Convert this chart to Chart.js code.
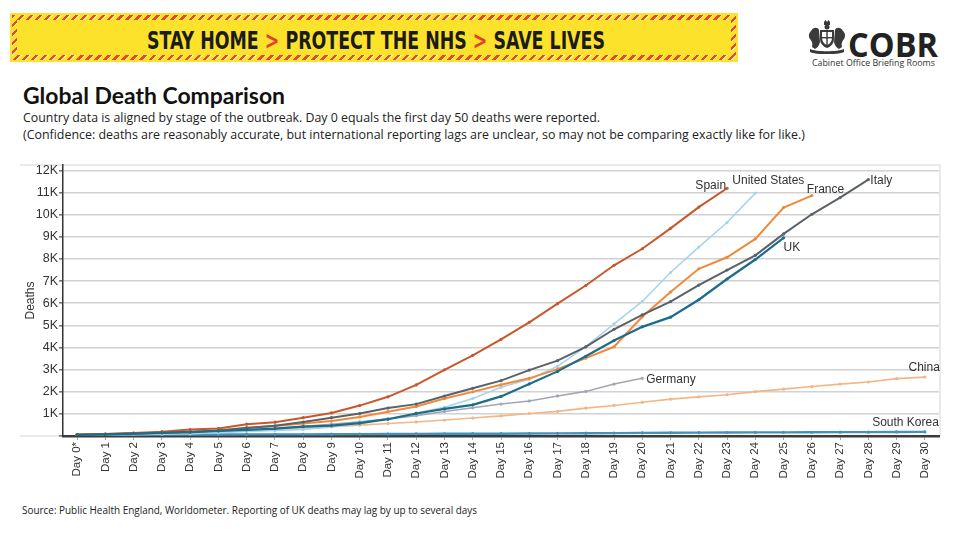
<!DOCTYPE html>
<html><head><meta charset="utf-8">
<script src="https://cdn.jsdelivr.net/npm/chart.js@4.4.1/dist/chart.umd.min.js"></script>
<style>
html,body{margin:0;padding:0;background:#fff;width:960px;height:535px;overflow:hidden;font-family:"Liberation Sans",Arial,sans-serif;}
.abs{position:absolute;white-space:nowrap;transform-origin:0 0;line-height:1;}
#banner{position:absolute;left:10px;top:13px;width:728px;height:49px;background:#fde22b;}
#stripes{position:absolute;left:2px;top:2px;right:2px;bottom:2px;background:repeating-linear-gradient(135deg,#e5492d 0 2.4px,#fbeea0 2.4px 3.4px,#fde22b 3.4px 6.4px);}
#bannerInner{position:absolute;left:7px;top:7px;right:7px;bottom:7px;background:#fde22b;}
#slogan{left:147px;top:26px;font:bold 25px "Liberation Sans Narrow","DejaVu Sans Condensed","Liberation Sans",sans-serif;color:#1b1b1b;}
.chev{color:#e2402a}
#cobr{left:848px;top:21px;font:bold 34px "Open Sans","Liberation Sans",sans-serif;color:#222;}
#cabinet{left:812px;top:56px;font:9px "Open Sans","Liberation Sans",sans-serif;color:#333;}
#crest{position:absolute;left:807px;top:19px;}
#title{left:23px;top:82px;font:bold 22px Lato,"Open Sans",sans-serif;color:#111;}
#sub1{left:23px;top:109px;font:12.5px "Open Sans",sans-serif;color:#222;}
#sub2{left:23px;top:126px;font:12.5px "Open Sans",sans-serif;color:#222;}
#source{left:22px;top:503px;font:10.5px "Open Sans",sans-serif;color:#222;}
#chartBox{position:absolute;left:0;top:150px;width:960px;height:331px;}
</style></head>
<body>
<div id="banner"><div id="stripes"></div><div id="bannerInner"></div></div>
<div id="slogan" class="abs">STAY HOME <span class="chev">&gt;</span> PROTECT THE NHS <span class="chev">&gt;</span> SAVE LIVES</div>
<svg id="crest" width="40" height="35" viewBox="0 0 40 35">
  <g fill="#3a3a3a">
    <path d="M17 3 l1.5-2 1.5 2 1.5-2 1.5 2 v3 h-6z"/>
    <circle cx="20" cy="8" r="2.5"/>
    <path d="M13 11 h14 v9 c0 5-4 8-7 9 c-3-1-7-4-7-9z"/>
    <path d="M4 12 c2-4 7-4 8-1 l1 12 c-1 4-3 6-5 7 l-3-2 c1-3 0-6-2-8 c-2-3-1-6 1-8z"/>
    <path d="M36 12 c-2-4-7-4-8-1 l-1 12 c1 4 3 6 5 7 l3-2 c-1-3 0-6 2-8 c2-3 1-6-1-8z"/>
    <path d="M3 30 c6 3 28 3 34 0 v3 c-6 3-28 3-34 0z"/>
  </g>
  <g fill="#fff"><path d="M15 13 h10 v6 c0 3-2 6-5 7 c-3-1-5-4-5-7z"/></g>
  <g fill="#3a3a3a"><rect x="19.3" y="13" width="1.4" height="13"/><rect x="15" y="18" width="10" height="1.4"/></g>
</svg>
<div id="cobr" class="abs">COBR</div>
<div id="cabinet" class="abs">Cabinet Office Briefing Rooms</div>
<div id="title" class="abs">Global Death Comparison</div>
<div id="sub1" class="abs">Country data is aligned by stage of the outbreak. Day 0 equals the first day 50 deaths were reported.</div>
<div id="sub2" class="abs">(Confidence: deaths are reasonably accurate, but international reporting lags are unclear, so may not be comparing exactly like for like.)</div>
<div id="chartBox"><canvas id="c" width="960" height="331"></canvas></div>
<div id="source" class="abs">Source: Public Health England, Worldometer. Reporting of UK deaths may lag by up to several days</div>
<script>
// ---- data ----
const dayLabels = ["Day 0*","Day 1","Day 2","Day 3","Day 4","Day 5","Day 6","Day 7","Day 8","Day 9","Day 10",
  "Day 11","Day 12","Day 13","Day 14","Day 15","Day 16","Day 17","Day 18","Day 19","Day 20",
  "Day 21","Day 22","Day 23","Day 24","Day 25","Day 26","Day 27","Day 28","Day 29","Day 30"];
const yTickValues = [0,1000,2000,3000,4000,5000,6000,7000,8000,9000,10000,11000,12000];
const yTickLabels = ["","1K","2K","3K","4K","5K","6K","7K","8K","9K","10K","11K","12K"];
const ukDeaths = [55,71,104,144,177,233,281,335,422,465,578,759,1019,1228,1408,1789,2352,2921,3605,4313,4934,5373,6159,7097,7978,8958];
const spainDeaths = [50,86,133,196,294,342,533,623,830,1043,1375,1772,2311,2990,3647,4365,5138,5982,6803,7716,8464,9387,10348,11198];
const italyDeaths = [52,79,107,148,197,233,366,463,631,827,1016,1266,1441,1809,2158,2503,2978,3405,4032,4825,5476,6077,6820,7503,8165,9134,10023,10779,11591];
const franceDeaths = [79,91,127,148,175,264,372,450,562,674,860,1100,1331,1696,1995,2314,2606,3024,3523,4032,5387,6507,7560,8078,8911,10328,10869];
const usDeaths = [50,58,69,85,108,150,206,255,301,414,555,780,1040,1300,1700,2200,2560,3150,4040,5070,6080,7390,8540,9650,10980];
const germanyDeaths = [67,84,94,123,157,206,267,342,433,533,645,775,920,1107,1275,1444,1584,1810,2016,2349,2607];
const chinaDeaths = [56,80,106,132,170,213,259,304,361,425,490,562,636,722,811,908,1016,1113,1259,1380,1523,1665,1770,1868,2004,2118,2236,2345,2442,2592,2663];
const koreaDeaths = [50,51,54,60,66,67,72,75,75,81,84,91,94,102,104,104,111,120,126,131,139,144,152,158,162,165,169,174,177,183,186];
const seriesNames = ["UK","Spain","Italy","France","United States","Germany","China","South Korea"];
const seriesValues = [ukDeaths,spainDeaths,italyDeaths,franceDeaths,usDeaths,germanyDeaths,chinaDeaths,koreaDeaths];

// ---- styles ----
const colors = {"UK":"#1c6d8c","Spain":"#c9572c","Italy":"#5a6169","France":"#ef8a3c","United States":"#a9d3ea","Germany":"#a3a7b0","China":"#f4b685","South Korea":"#4592bb"};
const widths = {"UK":2.2,"Spain":2,"Italy":2,"France":2,"United States":1.6,"Germany":1.6,"China":1.6,"South Korea":2.4};
const labelPos = {"UK":{dx:0,dy:10,align:"left"},"Spain":{dx:-1,dy:-3,align:"right"},"Italy":{dx:2,dy:1,align:"left"},
  "France":{dx:-5,dy:-6,align:"left"},"United States":{dx:-23,dy:-12,align:"left"},"Germany":{dx:4,dy:1,align:"left"},
  "China":{dx:15,dy:-9,align:"right"},"South Korea":{dx:14,dy:-9,align:"right"}};

const datasets = seriesNames.map((n,i)=>({
  label:n, data:seriesValues[i], borderColor:colors[n], backgroundColor:colors[n],
  pointBackgroundColor:colors[n], pointBorderWidth:0, pointRadius:1.6, borderWidth:widths[n], tension:0, fill:false
}));

const endLabels = {
  id:'endLabels',
  afterDatasetsDraw(chart){
    const ctx = chart.ctx;
    chart.data.datasets.forEach((ds,i)=>{
      const meta = chart.getDatasetMeta(i);
      const pt = meta.data[meta.data.length-1];
      const o = labelPos[ds.label];
      ctx.save();
      ctx.font = '12px "Liberation Sans", Arial, sans-serif';
      ctx.fillStyle = '#333';
      ctx.textAlign = o.align; ctx.textBaseline = 'middle';
      ctx.fillText(ds.label, pt.x+o.dx, pt.y+o.dy);
      ctx.restore();
    });
  }
};
const frame = {
  id:'frame',
  beforeDraw(chart){
    const {ctx, chartArea:a} = chart;
    ctx.save();
    ctx.strokeStyle = '#e4e4e4'; ctx.lineWidth = 1.5;
    ctx.beginPath();
    ctx.moveTo(20, a.top); ctx.lineTo(a.right+1, a.top); ctx.lineTo(a.right+1, a.bottom);
    ctx.moveTo(20, a.bottom); ctx.lineTo(a.left, a.bottom);
    ctx.stroke();
    ctx.restore();
  }
};

new Chart(document.getElementById('c'), {
  type:'line',
  data:{labels:dayLabels, datasets},
  plugins:[frame,endLabels],
  options:{
    responsive:false, animation:false, devicePixelRatio:1,
    layout:{padding:{left:0,right:21,top:15,bottom:0}},
    plugins:{legend:{display:false},tooltip:{enabled:false}},
    scales:{
      x:{
        offset:true,
        grid:{display:true,drawOnChartArea:false,tickLength:4,color:'#aaa'},
        border:{color:'#3c3c3c',width:2.5},
        ticks:{autoSkip:false,minRotation:90,maxRotation:90,padding:2,color:'#333',font:{family:'"Liberation Sans", Arial, sans-serif',size:11.5}},
        afterFit(s){ s.height = 45; }
      },
      y:{
        min:0, max:12250,
        afterBuildTicks(s){ s.ticks = yTickValues.map(v=>({value:v})); },
        grid:{color:'#d2d2d2',lineWidth:1.6,tickLength:4,tickColor:'#777'},
        border:{color:'#333',width:1.5},
        ticks:{autoSkip:false,padding:1,color:'#333',font:{family:'"Liberation Sans", Arial, sans-serif',size:12.5},
          callback:(v,i)=> yTickLabels[yTickValues.indexOf(v)] ?? ''},
        title:{display:true,text:'Deaths',color:'#333',padding:{top:23,bottom:0},font:{family:'"Liberation Sans", Arial, sans-serif',size:12}},
        afterFit(s){ s.width = 63; }
      }
    }
  }
});

// fit text widths
function fit(id,w){ const el=document.getElementById(id); const r=el.getBoundingClientRect().width; el.style.transform='scaleX('+(w/r)+')'; }
fit('slogan',458); fit('title',262); fit('sub1',577); fit('sub2',782); fit('source',455); fit('cobr',90); fit('cabinet',123);
</script>
</body></html>
